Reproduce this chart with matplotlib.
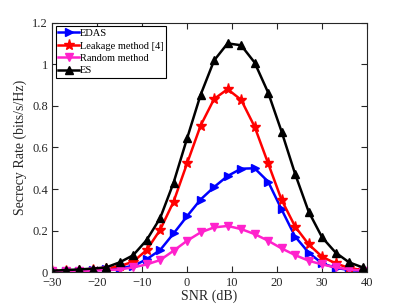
import numpy as np
import matplotlib.pyplot as plt

# SNR grid (dB)
snr = np.arange(-30, 40, 3)

# secrecy rate values (bits/s/Hz)
edas = [0.005, 0.006, 0.008, 0.010, 0.014, 0.021, 0.030, 0.063, 0.107, 0.187,
        0.270, 0.350, 0.410, 0.463, 0.498, 0.500, 0.436, 0.302, 0.172, 0.095,
        0.043, 0.022, 0.011, 0.006]
leakage = [0.005, 0.006, 0.008, 0.011, 0.018, 0.030, 0.051, 0.107, 0.204, 0.340,
           0.524, 0.705, 0.833, 0.880, 0.829, 0.700, 0.524, 0.348, 0.220, 0.135,
           0.075, 0.043, 0.021, 0.011]
random_m = [0.005, 0.005, 0.006, 0.008, 0.011, 0.014, 0.024, 0.038, 0.059, 0.104,
            0.152, 0.192, 0.216, 0.223, 0.208, 0.184, 0.152, 0.115, 0.083, 0.056,
            0.038, 0.024, 0.014, 0.008]
es = [0.008, 0.011, 0.014, 0.018, 0.024, 0.048, 0.082, 0.155, 0.260, 0.431,
      0.644, 0.853, 1.018, 1.100, 1.091, 1.008, 0.864, 0.676, 0.473, 0.292,
      0.168, 0.095, 0.048, 0.024]

labels = ['EDAS', 'Leakage method [4]', 'Random method', 'ES']

plt.rcParams['font.family'] = ['Liberation Serif', 'DejaVu Serif']

fig = plt.figure(figsize=(4.07, 3.05), dpi=100)
ax = fig.add_axes([0.128, 0.107, 0.774, 0.819])

ax.plot(snr, edas, color='#0000FF', marker='>', markersize=6, lw=1.8, label=labels[0])
ax.plot(snr, leakage, color='#FF0000', marker='*', markersize=8, lw=1.8, label=labels[1])
ax.plot(snr, random_m, color='#FF22CC', marker='v', markersize=6, lw=1.8, label=labels[2])
ax.plot(snr, es, color='#000000', marker='^', markersize=6, lw=1.8, label=labels[3])

ax.set_xlim(-30, 40)
ax.set_ylim(0, 1.2)
ax.set_xticks(np.arange(-30, 41, 10))
ax.set_yticks([0, 0.2, 0.4, 0.6, 0.8, 1.0, 1.2])
ax.set_yticklabels(['0', '0.2', '0.4', '0.6', '0.8', '1', '1.2'])

axcol = '#262626'
ax.tick_params(direction='in', top=True, right=True, length=4, width=0.8,
               labelsize=9, colors=axcol, pad=3)
for s in ax.spines.values():
    s.set_color(axcol)
    s.set_linewidth(0.8)

ax.set_xlabel('SNR (dB)', fontsize=10, color=axcol, labelpad=1)
ax.set_ylabel('Secrecy Rate (bits/s/Hz)', fontsize=10, color=axcol, labelpad=4)

leg = ax.legend(loc='upper left', fontsize=7.5, handlelength=2.0, handletextpad=0.1,
                borderpad=0.25, labelspacing=0.3, borderaxespad=0.35, fancybox=False,
                framealpha=1)
leg.get_frame().set_edgecolor('black')
leg.get_frame().set_linewidth(0.8)

fig.savefig('out.png', dpi=100)
